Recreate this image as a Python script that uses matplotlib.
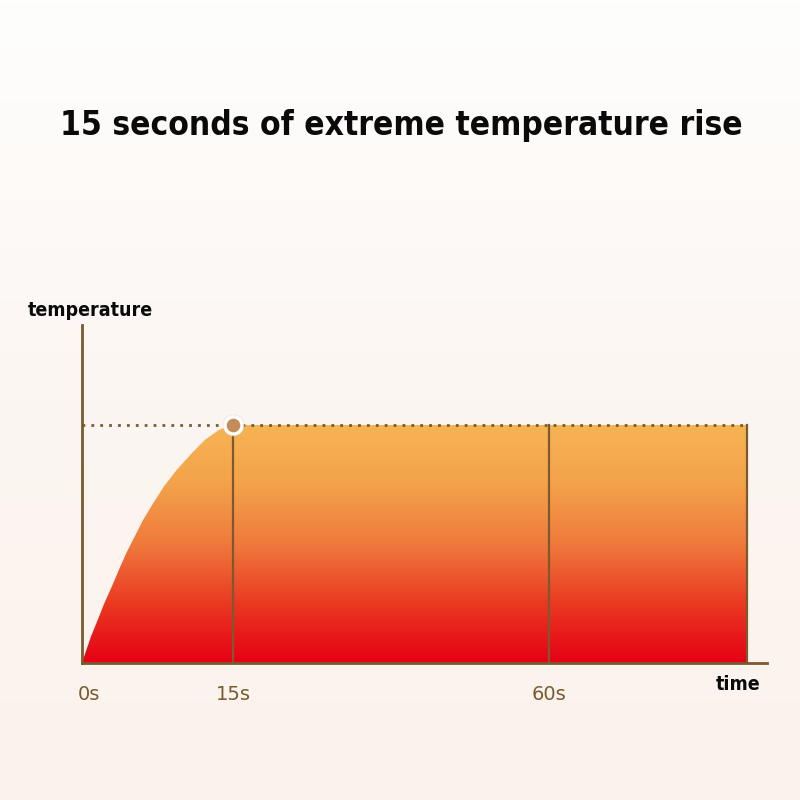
import numpy as np
import matplotlib
matplotlib.use("Agg")
import matplotlib.pyplot as plt
import matplotlib.transforms as mtransforms
from matplotlib import font_manager
from matplotlib.colors import LinearSegmentedColormap

# --- data ---
curve_t = [0, 0.33, 0.9, 1.57, 2.23, 2.97, 3.67, 4.4, 5.23, 6.07, 7.07, 8.13,
           9.4, 10.9, 12.2, 13.6, 14.7, 15]
curve_temp = [0, 4.2, 11.2, 18.2, 25.2, 32.2, 39.2, 46.2, 53.1, 60.1, 67.1, 74.1,
              81.1, 88.1, 93.7, 97.9, 99.8, 100]
hold_t = [15, 60, 90]
hold_temp = [100, 100, 100]
tick_t = [0, 15, 60]
tick_labels = ["0s", "15s", "60s"]
line_t = [15, 60, 90]
peak_t, peak_temp = 15, 100

# x axis is not to scale in the original: knots time -> position
knot_t = [0, 15, 60, 90, 100]
knot_pos = [0, 151, 467, 665, 685]

BROWN = "#7a5a2e"

# look for a condensed / narrow bold face, else plain DejaVu bold
cond = None
for f in font_manager.fontManager.ttflist:
    low = f.fname.lower()
    if ("condensed" in low or "narrow" in low) and "bold" in low and "oblique" not in low and "italic" not in low:
        cond = f.fname
        break
if cond:
    title_fp = font_manager.FontProperties(fname=cond, size=24)
    lab_fp = font_manager.FontProperties(fname=cond, size=14)
else:
    title_fp = font_manager.FontProperties(family="DejaVu Sans", weight="bold", size=21)
    lab_fp = font_manager.FontProperties(family="DejaVu Sans", weight="bold", size=12)

fig = plt.figure(figsize=(8, 8), dpi=100)

# background gradient
bg = fig.add_axes([0, 0, 1, 1])
bg.axis("off")
bg_cmap = LinearSegmentedColormap.from_list("bg", ["#fefefd", "#fcf6f2", "#fbf2ec"])
bg.imshow(np.linspace(0, 1, 256).reshape(-1, 1), aspect="auto", cmap=bg_cmap,
          extent=[0, 1, 0, 1])
bg.set_xlim(0, 1)
bg.set_ylim(0, 1)

# axes placed at px x 82..767, y 325..663
W = H = 800
ax = fig.add_axes([82 / W, (H - 663) / H, 685 / W, 338 / H])
ax.patch.set_alpha(0)
fwd = lambda t: np.interp(t, knot_t, knot_pos)
inv = lambda p: np.interp(p, knot_pos, knot_t)
ax.set_xscale("function", functions=(fwd, inv))

# filled area with vertical gradient
xs = curve_t + hold_t[1:]
ys = curve_temp + hold_temp[1:]
poly = ax.fill_between(xs, ys, 0, color="none", lw=0)
cmap = LinearSegmentedColormap.from_list(
    "heat", ["#e60014", "#ea3a22", "#ef7a3c", "#f4a24a", "#f6b453"])
img = ax.imshow(np.linspace(0, 1, 256).reshape(-1, 1), origin="lower", aspect="auto",
                cmap=cmap, extent=[0, max(hold_t), 0, peak_temp], zorder=1)
img.set_clip_path(poly.get_paths()[0], transform=ax.transData)
ax.set_xlim(0, 100)
ax.set_ylim(0, 142)

# dotted max line
ax.plot([0, max(hold_t)], [peak_temp, peak_temp], color=BROWN, lw=2,
        linestyle=(0, (1, 2.2)), zorder=3)

# vertical lines
for t in line_t:
    ax.plot([t, t], [0, peak_temp], color=BROWN, lw=1.6, zorder=3)

# peak marker
ax.scatter([peak_t], [peak_temp], s=260, color="#d8cfc8", alpha=0.35, lw=0, zorder=4)
ax.scatter([peak_t], [peak_temp], s=150, color="#c48d57", edgecolors="white",
           linewidths=2.4, zorder=5)

for s in ["top", "right"]:
    ax.spines[s].set_visible(False)
for s in ["left", "bottom"]:
    ax.spines[s].set_color(BROWN)
    ax.spines[s].set_linewidth(2)
ax.set_yticks([])
ax.set_xticks(tick_t)
ax.set_xticklabels(tick_labels, fontsize=14, color=BROWN)
ax.tick_params(axis="x", length=0, pad=16)
ax.set_xticks([], minor=True)
# "0s" sits a bit right of the origin in the original
lbl0 = ax.get_xticklabels()[0]
lbl0.set_transform(lbl0.get_transform() + mtransforms.ScaledTranslation(7 / 100, 0, fig.dpi_scale_trans))

fig.text(401 / W, 1 - 125 / H, "15 seconds of extreme temperature rise",
         ha="center", va="center", fontproperties=title_fp, color="#0a0a0a")
fig.text(90 / W, 1 - 311 / H, "temperature", ha="center", va="center",
         fontproperties=lab_fp, color="#0a0a0a")
fig.text(738 / W, 1 - 685 / H, "time", ha="center", va="center",
         fontproperties=lab_fp, color="#0a0a0a")

fig.savefig("out.png", dpi=100)
